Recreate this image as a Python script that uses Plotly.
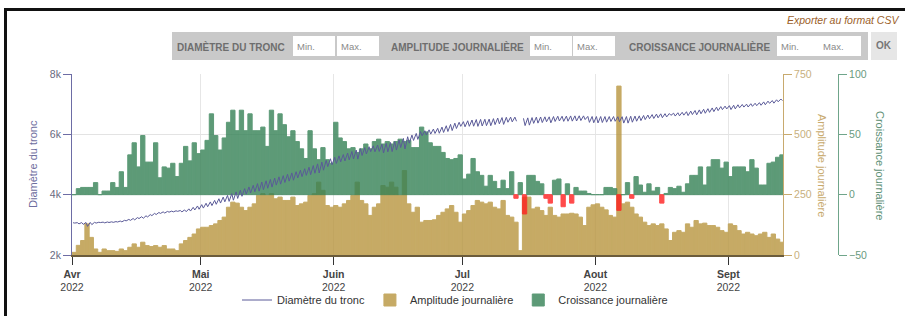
import pandas as pd
import plotly.graph_objects as go

# ---------------- data (daily values, 1 Apr 2022 -> 13 Sep 2022) ----------------
start_date = "2022-04-01"
n_days = 166

diametre = [
    3070, 3072, 3075, 3078, 3080, 3083, 3086, 3090, 3095, 3100, 3108,
    3125, 3150, 3180, 3210, 3240, 3270, 3300, 3340, 3380, 3410,
    3430, 3445, 3455, 3465, 3475, 3495, 3530, 3580, 3625, 3670,
    3715, 3760, 3810, 3865, 3920, 3975, 4035, 4090, 4145, 4200,
    4255, 4310, 4365, 4420, 4460, 4505, 4550, 4590, 4630, 4675,
    4720, 4760, 4810, 4860, 4910, 4965, 5020, 5080, 5135, 5190,
    5240, 5285, 5330, 5380, 5430, 5480, 5525, 5560, 5590, 5620,
    5645, 5670, 5700, 5730, 5760, 5810, 5865, 5920, 5975, 6030,
    6090, 6120, 6150, 6175, 6200, 6240, 6285, 6330, 6370, 6400,
    6420, 6450, 6475, 6490, 6495, 6500, 6505, 6520, 6540, 6555,
    6565, 6570, 6570, None, 6530, 6545, 6555, 6570, 6575, 6580,
    6580, 6590, 6600, 6600, 6605, 6610, 6612, 6614, 6612, 6595,
    6592, 6590, 6590, 6590, 6590, 6590, 6585, 6585, 6590, 6600,
    6605, 6612, 6625, 6640, 6655, 6670, 6680, 6685, 6690, 6700,
    6715, 6730, 6750, 6770, 6790, 6810, 6830, 6850, 6875, 6900,
    6920, 6935, 6950, 6965, 6980, 6990, 7000, 7015, 7030, 7050,
    7075, 7100, 7120, 7145, 7170,
]

# observed daily minima of the diameter where they differ from (max - amplitude)
diametre_min_releve = {"2022-08-06": 6420}

amplitude = [
    # April
    11, 40, 60, 129, 73, 25, 11, 25, 18, 18, 15, 25, 18, 32, 46, 32, 53, 39, 35, 39,
    32, 39, 25, 25, 18, 46, 60, 73, 87, 108,
    # May
    115, 115, 122, 129, 143, 157, 198, 219, 215, 198, 184, 198, 212, 247, 254, 247,
    254, 233, 240, 226, 226, 240, 205, 212, 219, 247, 254, 302, 268, 205, 198,
    # June
    205, 198, 212, 226, 247, 302, 226, 212, 164, 198, 212, 288, 281, 302, 281, 247,
    350, 212, 177, 198, 136, 143, 143, 146, 164, 177, 191, 205, 177, 136,
    # July
    170, 184, 205, 226, 219, 212, 219, 198, 191, 226, 164, 157, 136, 18, 240, 240,
    191, 198, 184, 164, 198, 164, 157, 170, 170, 173, 170, 157, 122, 198, 208,
    # August
    212, 198, 187, 164, 157, 700, 212, 219, 198, 170, 157, 136, 122, 129, 122, 129,
    108, 60, 94, 101, 94, 129, 115, 143, 129, 132, 122, 122, 115, 101, 94,
    # September
    129, 122, 101, 87, 94, 87, 80, 87, 94, 73, 87, 66, 53,
]

croissance = [
    # April
    0, 5, 6, 6, 6, 10, 0, 3, 3, 10, 6, 19, 6, 33, 43, 23, 49, 27, 27, 43,
    14, 23, 22, 26, 15, 26, 40, 28, 43, 34,
    # May
    37, 45, 67, 49, 37, 47, 60, 70, 53, 70, 53, 67, 53, 53, 56, 40,
    70, 53, 67, 58, 48, 53, 44, 38, 30, 53, 38, 29, 39, 29, 26,
    # June
    60, 47, 44, 38, 39, 35, 38, 42, 38, 44, 46, 42, 44, 42, 44, 46,
    44, 45, 39, 39, 56, 52, 43, 40, 40, 35, 30, 29, 30, 33,
    # July
    13, 17, 30, 19, 16, 7, 16, 11, 5, 12, 5, 19, -3, 10, -16, 16,
    16, 11, 9, -3, -7, 12, 13, -10, 9, -7, 6, 3, 3, 1, 0,
    # August
    0, 0, 6, 6, 5, -13, 0, 10, -3, 15, 8, 2, 9, 3, 6, -7,
    1, 6, 5, 7, 2, 9, 16, 16, 23, 8, 23, 29, 29, 22, 27,
    # September
    15, 23, 23, 23, 19, 29, 22, 8, 8, 26, 27, 31, 33,
]

month_ticks = ["2022-04-01", "2022-05-01", "2022-06-01", "2022-07-01", "2022-08-01", "2022-09-01"]
month_labels = ["Avr", "Mai", "Juin", "Jul", "Aout", "Sept"]
year_label = "2022"

left_ticks = [2000, 4000, 6000, 8000]
left_labels = ["2k", "4k", "6k", "8k"]
amp_ticks = [0, 250, 500, 750]
cro_ticks = [-50, 0, 50, 100]

# ---------------- derived series ----------------
days = pd.date_range(start_date, periods=n_days, freq="D")
bar_x = [d + pd.Timedelta(hours=12) for d in days]

# diameter line: daily maximum (morning) and minimum (afternoon)
line_x, line_y = [], []
for d, mx, amp in zip(days, diametre, amplitude):
    line_x += [d + pd.Timedelta(hours=6), d + pd.Timedelta(hours=15)]
    if mx is None:
        line_y += [None, None]
    else:
        mn = diametre_min_releve.get(d.strftime("%Y-%m-%d"), mx - amp)
        line_y += [mx, mn]

GREEN = "#358256"
RED = "#ff1f1f"
TAN = "#b8963f"
LINE = "#5a5a98"
cro_colors = [GREEN if v >= 0 else RED for v in croissance]

# ---------------- geometry helpers (layout decoration only) ----------------
W, H = 905, 316
ML, MR, MT, MB = 72, 55, 74, 61
PW, PH = W - ML - MR, H - MT - MB


def px(x):
    return (x - ML) / PW


def py(y):
    return (H - MB - y) / PH


FONT = "Liberation Sans, Arial, sans-serif"

fig = go.Figure()

# main y axis = amplitude (right), y2 = croissance (far right), y3 = diamètre (left)
fig.add_trace(go.Bar(
    x=bar_x, y=amplitude, xaxis="x", yaxis="y", name="Amplitude journalière",
    width=86400000, opacity=0.8,
    marker=dict(color=TAN, line=dict(width=1, color=TAN)),
    legendrank=2, hoverinfo="skip",
))
fig.add_trace(go.Bar(
    x=bar_x, y=croissance, xaxis="x", yaxis="y2", name="Croissance journalière",
    width=86400000, opacity=0.8,
    marker=dict(color=cro_colors, line=dict(width=1, color=cro_colors)),
    legendrank=3, hoverinfo="skip",
))
fig.add_trace(go.Scatter(
    x=line_x, y=line_y, xaxis="x", yaxis="y3", mode="lines", name="Diamètre du tronc",
    line=dict(color=LINE, width=1), connectgaps=False,
    legendrank=1, hoverinfo="skip",
))

x_end = days[-1] + pd.Timedelta(hours=18)
amp_end = px(783)

fig.update_layout(
    width=W, height=H,
    margin=dict(l=ML, r=MR, t=MT, b=MB, pad=0, autoexpand=False),
    paper_bgcolor="white", plot_bgcolor="white",
    font=dict(family=FONT, size=11, color="#333"),
    barmode="overlay",
    showlegend=True,
    legend=dict(orientation="h", xref="container", yref="container",
                x=455 / W, xanchor="center", y=1 - 300 / H, yanchor="middle",
                font=dict(size=11, color="#333"), itemwidth=30, traceorder="normal",
                bgcolor="rgba(0,0,0,0)"),
    xaxis=dict(
        type="date", domain=[0, amp_end], range=[days[0], x_end],
        tickvals=month_ticks,
        ticktext=[f"<b>{m}</b><br>{year_label}" for m in month_labels],
        ticks="outside", ticklen=8, tickcolor="#333", tickwidth=1,
        tickfont=dict(size=10.5, color="#444"),
        showgrid=True, gridcolor="#e6e6e6", gridwidth=1,
        showline=True, linecolor="#6b5c3c", linewidth=2,
        zeroline=False, fixedrange=True,
    ),
    yaxis=dict(
        side="right", anchor="x", range=[0, 750], tickvals=amp_ticks,
        ticks="outside", ticklen=8, tickcolor="#c8aa6e", tickwidth=1,
        tickfont=dict(size=10.5, color="#c8b07e"),
        showgrid=True, gridcolor="#e3e3e3", gridwidth=1,
        showline=True, linecolor="#c8aa6e", linewidth=1, zeroline=False,
    ),
    yaxis2=dict(
        overlaying="y", side="right", anchor="free", position=px(838),
        range=[-50, 100], tickvals=cro_ticks,
        ticks="outside", ticklen=8, tickcolor="#6fa58a", tickwidth=1,
        tickfont=dict(size=10.5, color="#6a9a80"),
        showgrid=False, showline=True, linecolor="#6fa58a", linewidth=1, zeroline=False,
    ),
    yaxis3=dict(
        overlaying="y", side="left", anchor="x",
        range=[2000, 8000], tickvals=left_ticks, ticktext=left_labels,
        ticks="outside", ticklen=8, tickcolor="#6d6da5", tickwidth=1,
        tickfont=dict(size=10.5, color="#6a6a80"),
        showgrid=False, showline=True, linecolor="#6d6da5", linewidth=1, zeroline=False,
    ),
)

annotations = [
    dict(text="Diamètre du tronc", x=px(33), y=py(164), textangle=-90,
         font=dict(size=11, color="#6e6e9e")),
    dict(text="Amplitude journalière", x=px(822), y=py(165), textangle=90,
         font=dict(size=11, color="#c8aa6e")),
    dict(text="Croissance journalière", x=px(880), y=py(165), textangle=90,
         font=dict(size=11, color="#5d8f75")),
    dict(text="<i>Exporter au format CSV</i>", x=px(901), y=py(20), xanchor="right",
         font=dict(size=10.5, color="#9c5f2a")),
]
for a in annotations:
    a.setdefault("xanchor", "center")
    a.update(xref="paper", yref="paper", showarrow=False, yanchor="middle")

shapes = [
    # frame
    dict(type="line", xref="paper", yref="paper", x0=px(4), x1=px(906), y0=py(9.5), y1=py(9.5),
         line=dict(color="#111", width=3)),
    dict(type="line", xref="paper", yref="paper", x0=px(5.5), x1=px(5.5), y0=py(9), y1=py(317),
         line=dict(color="#111", width=3)),
    # filter bar
    dict(type="rect", xref="paper", yref="paper", x0=px(172), x1=px(868), y0=py(60), y1=py(32),
         fillcolor="#c9c9c9", line=dict(width=0)),
    dict(type="rect", xref="paper", yref="paper", x0=px(871), x1=px(897), y0=py(60), y1=py(32),
         fillcolor="#e6e6e6", line=dict(width=0)),
]
labels = [("DIAMÈTRE DU TRONC", 175, 293, 337),
          ("AMPLITUDE JOURNALIÈRE", 389, 530, 573),
          ("CROISSANCE JOURNALIÈRE", 627, 777, 819)]
for text, lx, mn, mxx in labels:
    annotations.append(dict(text=f"<b>{text}</b>", x=px(lx), y=py(46.5), xanchor="left",
                            yanchor="middle", xref="paper", yref="paper", showarrow=False,
                            font=dict(size=10, color="#6e6e6e")))
    for bx, t in ((mn, "Min."), (mxx, "Max.")):
        shapes.append(dict(type="rect", xref="paper", yref="paper",
                           x0=px(bx), x1=px(bx + 42), y0=py(56), y1=py(36),
                           fillcolor="white", line=dict(width=0)))
        annotations.append(dict(text=t, x=px(bx + 2), y=py(46.5), xanchor="left", yanchor="middle",
                                xref="paper", yref="paper", showarrow=False,
                                font=dict(size=9.5, color="#8a8a8a")))
annotations.append(dict(text="<b>OK</b>", x=px(884), y=py(46), xanchor="center", yanchor="middle",
                        xref="paper", yref="paper", showarrow=False,
                        font=dict(size=10, color="#777777")))

fig.update_layout(annotations=annotations, shapes=shapes)

fig.write_html("out.html", config={"displayModeBar": False},
               post_script="document.body.style.margin='0';document.body.style.padding='0';")
